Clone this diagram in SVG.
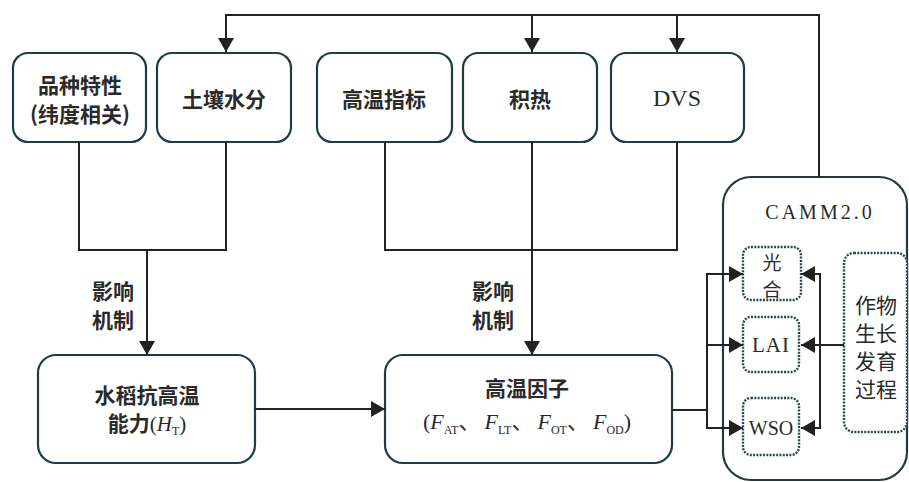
<svg xmlns="http://www.w3.org/2000/svg" width="909" height="482" viewBox="0 0 909 482">
<defs>
<style>
.box{fill:#fff;stroke:#1e3d42;stroke-width:2.2}
.dot{fill:#fff;stroke:#2a4a4f;stroke-width:2.4;stroke-dasharray:2 1.3}
.ln{fill:none;stroke:#222;stroke-width:2}
.cn{font-family:"Noto Sans CJK SC","Noto Sans",sans-serif;font-size:21px;font-weight:bold;fill:#2a2a2a;text-anchor:middle;dominant-baseline:central}
.sr{font-family:"Liberation Serif","DejaVu Serif",serif;font-size:21px;fill:#2a2a2a;text-anchor:middle;dominant-baseline:central}
.ser{font-family:"Liberation Serif","DejaVu Serif",serif;font-weight:normal}
.cj{font-family:"Noto Sans CJK SC",sans-serif}
</style>
<marker id="ah" viewBox="0 0 14 16" refX="14" refY="8" markerWidth="14" markerHeight="16" markerUnits="userSpaceOnUse" orient="auto">
<path d="M0,0 L14,8 L0,16 Z" fill="#222"/>
</marker>
</defs>
<rect width="909" height="482" fill="#fff"/>

<g id="variety">
<rect class="box" x="13" y="53" width="133" height="89" rx="15"/>
<text class="cn" x="80" y="84">品种特性</text>
<text class="cn" x="80" y="113">(纬度相关)</text>
</g>
<g id="soil">
<rect class="box" x="157" y="53" width="134" height="89" rx="15"/>
<text class="cn" x="224" y="98">土壤水分</text>
</g>
<g id="hightemp">
<rect class="box" x="317" y="53" width="135" height="89" rx="15"/>
<text class="cn" x="384" y="98">高温指标</text>
</g>
<g id="heat">
<rect class="box" x="463" y="53" width="134" height="89" rx="15"/>
<text class="cn" x="530" y="98">积热</text>
</g>
<g id="dvs">
<rect class="box" x="611" y="53" width="133" height="89" rx="15"/>
<text class="sr" x="677" y="98" style="font-size:24px">DVS</text>
</g>

<g id="resistance">
<rect class="box" x="38" y="355" width="217" height="108" rx="18"/>
<text class="cn" x="147" y="394">水稻抗高温</text>
<text class="cn" x="147" y="431" style="dominant-baseline:auto">能力<tspan class="ser">(</tspan><tspan class="ser" font-style="italic">H</tspan><tspan class="ser" font-size="12" dy="4">T</tspan><tspan class="ser" dy="-4">)</tspan></text>
</g>

<g id="factor">
<rect class="box" x="385" y="355" width="287" height="108" rx="18"/>
<text class="cn" x="527" y="387">高温因子</text>
<text class="sr" x="527" y="429" style="dominant-baseline:auto;font-size:22px">(<tspan font-style="italic">F</tspan><tspan font-size="12" dy="5">AT</tspan><tspan dy="-5" class="cj">、</tspan><tspan font-style="italic" dx="4">F</tspan><tspan font-size="12" dy="5">LT</tspan><tspan dy="-5" class="cj">、</tspan><tspan font-style="italic" dx="4">F</tspan><tspan font-size="12" dy="5">OT</tspan><tspan dy="-5" class="cj">、</tspan><tspan font-style="italic" dx="4">F</tspan><tspan font-size="12" dy="5">OD</tspan><tspan dy="-5">)</tspan></text>
</g>

<g id="camm">
<rect class="box" x="723" y="177" width="184" height="303" rx="28"/>
<text class="sr" x="820" y="212" style="font-size:20px;letter-spacing:3px">CAMM2.0</text>
</g>
<g id="photo">
<rect class="dot" x="743" y="247" width="58" height="53" rx="8"/>
<text class="cn" x="772" y="261" style="font-weight:normal;font-size:19px">光</text>
<text class="cn" x="772" y="288" style="font-weight:normal;font-size:19px">合</text>
</g>
<g id="lai">
<rect class="dot" x="743" y="317" width="56" height="55" rx="8"/>
<text class="sr" x="771" y="345" style="letter-spacing:1px">LAI</text>
</g>
<g id="wso">
<rect class="dot" x="743" y="398" width="56" height="57" rx="8"/>
<text class="sr" x="771" y="428" style="font-size:20px">WSO</text>
</g>
<g id="growth">
<rect class="dot" x="844" y="253" width="63" height="179" rx="10"/>
<text class="cn" x="876" y="304" style="font-weight:normal">作物</text>
<text class="cn" x="876" y="332" style="font-weight:normal">生长</text>
<text class="cn" x="876" y="360" style="font-weight:normal">发育</text>
<text class="cn" x="876" y="388" style="font-weight:normal">过程</text>
</g>

<g id="connectors">
<path class="ln" d="M819,177 V15 H226 V52" marker-end="url(#ah)"/>
<path class="ln" d="M532,15 V52" marker-end="url(#ah)"/>
<path class="ln" d="M677,15 V52" marker-end="url(#ah)"/>
<path class="ln" d="M79,142 V250 H226 V142"/>
<path class="ln" d="M147,250 V355" marker-end="url(#ah)"/>
<path class="ln" d="M385,142 V250 H677 V142"/>
<path class="ln" d="M532,142 V355" marker-end="url(#ah)"/>
<path class="ln" d="M255,409 H385" marker-end="url(#ah)"/>
<path class="ln" d="M672,410 H707"/>
<path class="ln" d="M707,274 V428"/>
<path class="ln" d="M706,274 H743" marker-end="url(#ah)"/>
<path class="ln" d="M706,345 H743" marker-end="url(#ah)"/>
<path class="ln" d="M706,428 H743" marker-end="url(#ah)"/>
<path class="ln" d="M844,345 H820"/>
<path class="ln" d="M820,274 V428"/>
<path class="ln" d="M821,274 H801" marker-end="url(#ah)"/>
<path class="ln" d="M821,345 H801" marker-end="url(#ah)"/>
<path class="ln" d="M821,428 H801" marker-end="url(#ah)"/>
<text class="cn" x="113" y="290">影响</text>
<text class="cn" x="113" y="319">机制</text>
<text class="cn" x="493" y="290">影响</text>
<text class="cn" x="493" y="319">机制</text>
</g>
</svg>
